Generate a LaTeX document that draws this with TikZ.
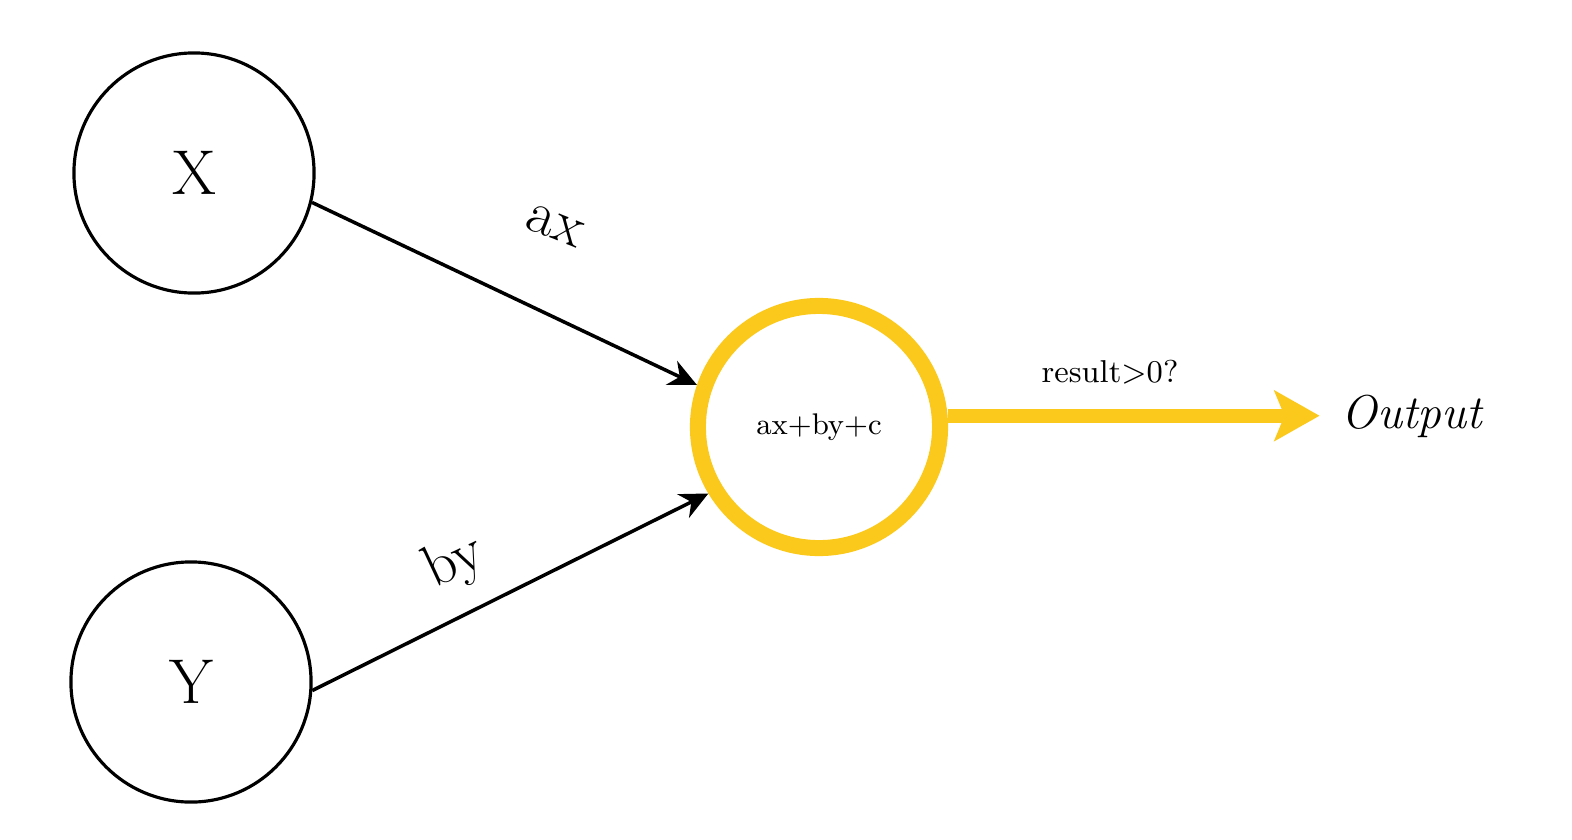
\documentclass[tikz,border=0pt]{standalone}
\usepackage{tikz}
\usetikzlibrary{arrows.meta,calc}

\definecolor{sunyellow}{RGB}{251,200,28}

\begin{document}
\begin{tikzpicture}[x=0.01cm,y=-0.01cm,
	innode/.style={circle, draw, line width=0.9pt, minimum size=2.40cm, font=\fontsize{18}{20}\selectfont},
	sumnode/.style={circle, draw=sunyellow, line width=0.16cm, minimum size=2.42cm, font=\fontsize{8.5}{10}\selectfont},
	weight/.style={font=\fontsize{17}{20}\selectfont},
	feed/.style={line width=1pt, -{Stealth[length=8pt,width=7.5pt]}},
	fire/.style={draw=sunyellow, line width=0.14cm, -{Stealth[length=0.45cm,width=0.5cm,inset=0.1cm]}}]
	\useasboundingbox (0,0) rectangle (1572,839);

	% Inputs
	\node[innode] (X) at (194,173) {X};
	\node[innode] (Y) at (191,682) {Y};

	% Summation unit
	\node[sumnode] (S) at (819,427) {ax+by+c};

	% Output label
	\node[font=\fontsize{13.5}{15}\selectfont\itshape] (O) at (1412,416) {Output};

	% Weighted inputs
	\draw[feed] (X.-14) -- (S.161);
	\draw[feed] (Y.-4) -- (S.211);

	% Threshold
	\draw[fire] (S.5) -- ($(S.5 -| O.west)+(-10,0)$);

	% Labels
	\node[weight, rotate=-22] (ax) at (555,226) {ax};
	\node[weight, rotate=25] (by) at (455,563) {by};
	\node[font=\fontsize{9}{11}\selectfont] (cond) at (1110,372) {result>0?};
\end{tikzpicture}
\end{document}
